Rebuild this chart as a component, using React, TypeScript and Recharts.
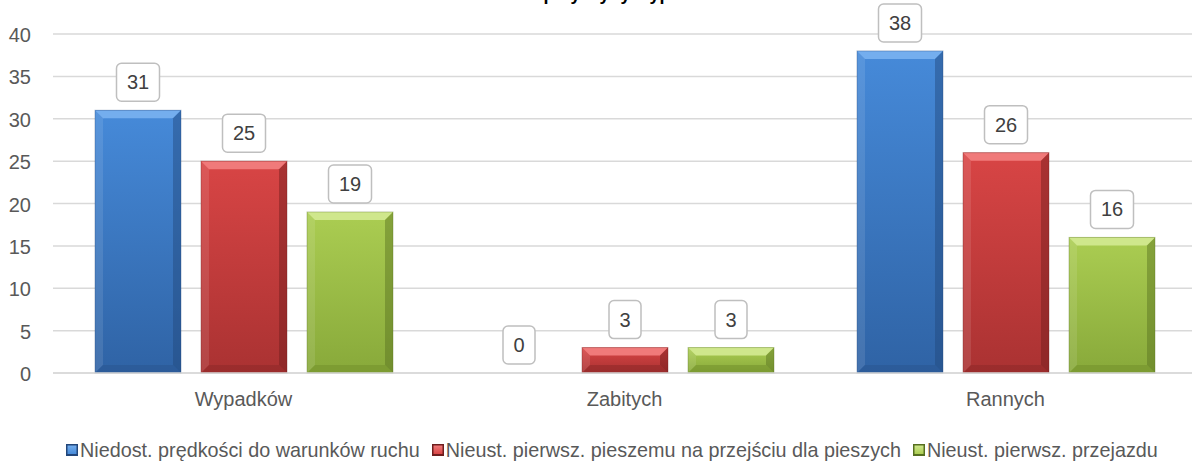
import React from 'react';
import { BarChart, Bar, XAxis, YAxis, CartesianGrid, Legend, LabelList } from 'recharts';

const categories = ['Wypadków', 'Zabitych', 'Rannych'];
const speedValues = [31, 0, 38];
const pedestrianValues = [25, 3, 26];
const crossingValues = [19, 3, 16];
const seriesNames = [
  'Niedost. prędkości do warunków ruchu',
  'Nieust. pierwsz. pieszemu na przejściu dla pieszych',
  'Nieust. pierwsz. przejazdu',
];
const yTicks = [0, 5, 10, 15, 20, 25, 30, 35, 40];
const title = 'Główne przyczyny wypadków';

const FONT = '"Liberation Sans", Arial, sans-serif';
const TEXT = '#595959';

// kolory fazowanych słupków
const PALETTE = [
  { top: '#468ad9', bottom: '#2f63a5', hi: '#74aeee', dark: '#22467a', low: '#2a5690' },
  { top: '#d84545', bottom: '#aa3232', hi: '#f07a7a', dark: '#6e1d1d', low: '#8e2828' },
  { top: '#abcd52', bottom: '#88a93a', hi: '#cfe78c', dark: '#566f20', low: '#728f2c' },
];

const data = categories.map((name, i) => ({
  name,
  s0: speedValues[i],
  s1: pedestrianValues[i],
  s2: crossingValues[i],
}));

function BevelBar(props: any) {
  const { x, y, width, height, pal, gid } = props;
  if (!height || height <= 0) return null;
  const b = Math.min(8, height / 2, width / 2);
  const x2 = x + width;
  const y2 = y + height;
  return (
    <g>
      <defs>
        <linearGradient id={gid} x1="0" y1="0" x2="0" y2="1">
          <stop offset="0%" stopColor={pal.top} />
          <stop offset="100%" stopColor={pal.bottom} />
        </linearGradient>
      </defs>
      <rect x={x} y={y} width={width} height={height} fill={`url(#${gid})`} />
      <polygon points={`${x},${y} ${x2},${y} ${x2 - b},${y + b} ${x + b},${y + b}`} fill={pal.hi} />
      <polygon points={`${x},${y} ${x + b},${y + b} ${x + b},${y2 - b} ${x},${y2}`} fill="#fff" opacity={0.1} />
      <polygon points={`${x2},${y} ${x2},${y2} ${x2 - b},${y2 - b} ${x2 - b},${y + b}`} fill={pal.dark} opacity={0.45} />
      <polygon points={`${x},${y2} ${x2},${y2} ${x2 - b},${y2 - b} ${x + b},${y2 - b}`} fill={pal.low} opacity={0.55} />
      <rect x={x} y={y} width={width} height={height} fill="none" stroke={pal.dark} strokeOpacity={0.35} strokeWidth={1} />
    </g>
  );
}

function BoxLabel(props: any) {
  const { x, y, width, value } = props;
  const txt = String(value);
  const w = txt.length * 11 + 21;
  const h = 38;
  const cx = x + width / 2;
  const bottom = y - 9;
  return (
    <g>
      <rect x={cx - w / 2} y={bottom - h} width={w} height={h} rx={5} ry={5} fill="#fff" stroke="#bfbfbf" strokeWidth={1.5} />
      <text x={cx} y={bottom - h / 2 + 7} textAnchor="middle" fontSize={20} fontFamily={FONT} fill="#404040">
        {txt}
      </text>
    </g>
  );
}

function LegendIcon({ pal, gid }: any) {
  return (
    <svg width={12} height={12} style={{ display: 'block' }}>
      <defs>
        <linearGradient id={gid} x1="0" y1="0" x2="0" y2="1">
          <stop offset="0%" stopColor={pal.hi} />
          <stop offset="100%" stopColor={pal.top} />
        </linearGradient>
      </defs>
      <rect x={0} y={0} width={12} height={12} fill={pal.dark} />
      <rect x={1.5} y={1.5} width={9} height={8.5} fill={`url(#${gid})`} />
    </svg>
  );
}

function CustomLegend() {
  return (
    <div style={{ display: 'flex', alignItems: 'center', height: 26, paddingLeft: 66, fontFamily: FONT, fontSize: 19.8, color: TEXT, lineHeight: '26px', whiteSpace: 'nowrap' }}>
      {seriesNames.map((n, i) => (
        <div key={n} style={{ display: 'flex', alignItems: 'center', marginRight: 12 }}>
          <LegendIcon pal={PALETTE[i]} gid={`lg${i}`} />
          <span style={{ marginLeft: 2 }}>{n}</span>
        </div>
      ))}
    </div>
  );
}

export default function App() {
  return (
    <div style={{ position: 'fixed', left: 0, top: 0, width: 1192, height: 465, overflow: 'hidden', background: '#fff' }}>
      <BarChart
        width={1200}
        height={465}
        data={data}
        margin={{ top: 34, right: 4, bottom: 2, left: 0 }}
        barCategoryGap={42}
        barGap={20}
      >
        <CartesianGrid vertical={false} stroke="#d9d9d9" strokeWidth={1.5} />
        <XAxis
          dataKey="name"
          axisLine={{ stroke: '#d9d9d9', strokeWidth: 1.5 }}
          tickLine={false}
          tickSize={0}
          tickMargin={19}
          height={64}
          tick={{ fontSize: 20, fontFamily: FONT, fill: TEXT }}
        />
        <YAxis
          domain={[0, 40]}
          ticks={yTicks}
          width={53}
          axisLine={false}
          tickLine={false}
          tickSize={0}
          tickMargin={22}
          interval={0}
          tick={{ fontSize: 20, fontFamily: FONT, fill: TEXT, dy: 1 }}
        />
        <Legend verticalAlign="bottom" height={26} content={() => <CustomLegend />} />
        {['s0', 's1', 's2'].map((key, i) => (
          <Bar
            key={key}
            dataKey={key}
            name={seriesNames[i]}
            fill={PALETTE[i].top}
            isAnimationActive={false}
            shape={(p: any) => <BevelBar {...p} pal={PALETTE[i]} gid={`bg${i}-${p.index}`} />}
          >
            <LabelList dataKey={key} content={(p: any) => <BoxLabel {...p} />} />
          </Bar>
        ))}
      </BarChart>
      <svg width={1192} height={10} style={{ position: 'absolute', left: 0, top: 0 }}>
        <text x={600} y={0} textAnchor="middle" fontSize={18} fontWeight="bold" fontFamily={FONT} fill="#000">
          {title}
        </text>
      </svg>
    </div>
  );
}
